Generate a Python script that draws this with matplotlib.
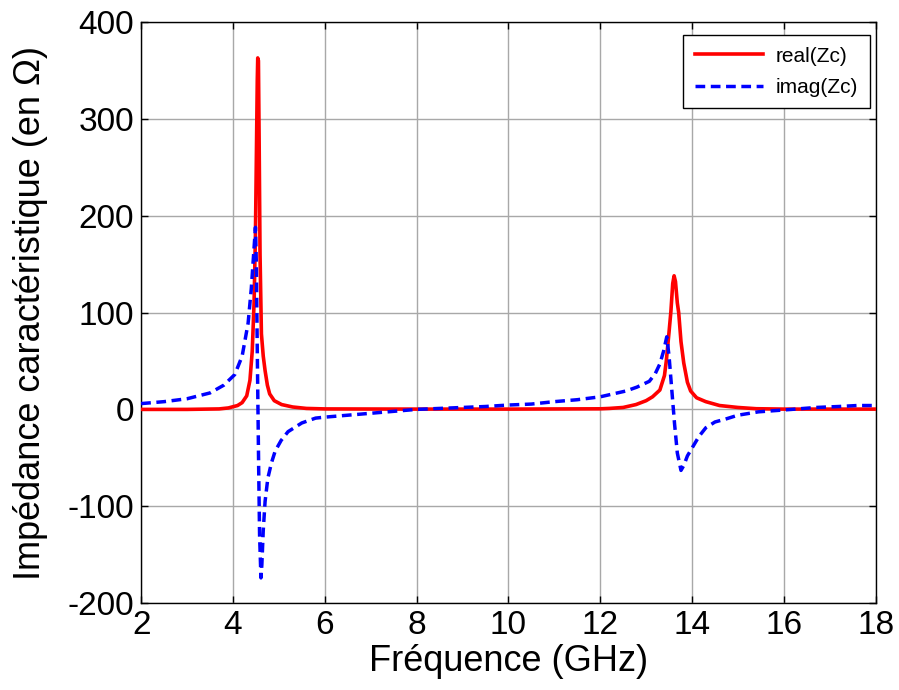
import matplotlib
matplotlib.use("Agg")
import matplotlib.pyplot as plt

# Real part of Zc
freq_real = [2.0, 3.0, 3.7, 3.9, 4.1, 4.2, 4.3, 4.37, 4.42, 4.46, 4.49, 4.51, 4.53, 4.54,
             4.555, 4.57, 4.59, 4.62, 4.66, 4.70, 4.75, 4.8, 4.9, 5.06, 5.3, 5.6, 6.0,
             8.0, 10.0, 12.0, 12.2, 12.5, 12.78, 13.0, 13.14, 13.3, 13.4, 13.44, 13.5,
             13.54, 13.58, 13.61, 13.64, 13.68, 13.71, 13.76, 13.82, 13.9, 13.97, 14.1,
             14.3, 14.6, 15.0, 15.4, 16.0, 18.0]
real_zc = [0.0, 0.0, 0.5, 1.5, 4, 7, 14, 30, 60, 110, 181, 260, 340, 363,
           360, 280, 160, 78, 55, 40, 25, 16, 9, 5, 2.5, 1, 0.5,
           0.3, 0.3, 0.6, 1, 2, 5, 9, 13, 20, 35, 50, 80,
           101, 130, 138, 132, 110, 100, 70, 48, 28, 19, 12,
           8, 4, 2, 0.7, 0.3, 0.3]

# Imaginary part of Zc
freq_imag = [2.0, 2.5, 3.0, 3.5, 3.8, 4.04, 4.2, 4.33, 4.4, 4.45, 4.49, 4.51, 4.53, 4.545,
             4.56, 4.58, 4.61, 4.63, 4.66, 4.70, 4.76, 4.84, 4.92, 5.05, 5.2, 5.5, 5.8,
             6.0, 6.5, 7.0, 7.5, 8.0, 8.5, 9.0, 9.5, 10.0, 10.5, 11.0, 11.5, 12.0, 12.56,
             12.8, 13.07, 13.2, 13.3, 13.38, 13.45, 13.5, 13.56, 13.62, 13.68, 13.76,
             13.82, 13.9, 14.0, 14.15, 14.3, 14.5, 14.73, 15.0, 15.45, 16.17, 16.7,
             17.2, 17.6, 18.0]
imag_zc = [6, 8, 11, 17, 25, 36, 55, 89, 125, 160, 188, 150, 60, 0,
           -60, -130, -174, -160, -125, -95, -71, -55, -43, -32, -23, -14, -9,
           -8, -6, -4, -2, 0, 1, 2, 3, 4.5, 5.5, 8, 10, 13, 19,
           23, 29, 37, 47, 60, 75, 55, 20, -15, -45, -63,
           -58, -48, -40, -28, -19, -13, -10, -6, -2.5, 0, 2,
           3, 4, 4]

x_ticks = [2, 4, 6, 8, 10, 12, 14, 16, 18]
y_ticks = [-200, -100, 0, 100, 200, 300, 400]

plt.rcParams['font.family'] = ['Liberation Sans', 'DejaVu Sans']
plt.rcParams['axes.unicode_minus'] = False

fig = plt.figure(figsize=(8.99, 6.90), dpi=100)
ax = fig.add_axes([0.157, 0.126, 0.817, 0.842])

ax.plot(freq_real, real_zc, color='#ff0000', lw=2.6, label='real(Zc)', zorder=3)
ax.plot(freq_imag, imag_zc, color='#0000ff', lw=2.5, dashes=(2.8, 1.6),
        label='imag(Zc)', zorder=3)

ax.set_xlim(2, 18)
ax.set_ylim(-200, 400)
ax.set_xticks(x_ticks)
ax.set_yticks(y_ticks)
ax.grid(True, color='#a8a8a8', lw=1.0, ls='-')
ax.set_axisbelow(True)
ax.tick_params(direction='in', top=True, right=True, length=5, width=1,
               labelsize=24, pad=5, colors='black')
for s in ax.spines.values():
    s.set_linewidth(1.0)
    s.set_color('black')

ax.set_xlabel('Fréquence (GHz)', fontsize=26, labelpad=2)
ax.set_ylabel('Impédance caractéristique (en Ω)', fontsize=26, labelpad=14)

leg = ax.legend(loc='upper right', bbox_to_anchor=(1 - 6/736, 1 - 13/581),
                borderaxespad=0, fontsize=15, fancybox=False, framealpha=1,
                edgecolor='black', handlelength=3.3, borderpad=0.55,
                labelspacing=0.6, handletextpad=0.6)
leg.get_frame().set_linewidth(1.0)

fig.savefig('out.png', dpi=100)
